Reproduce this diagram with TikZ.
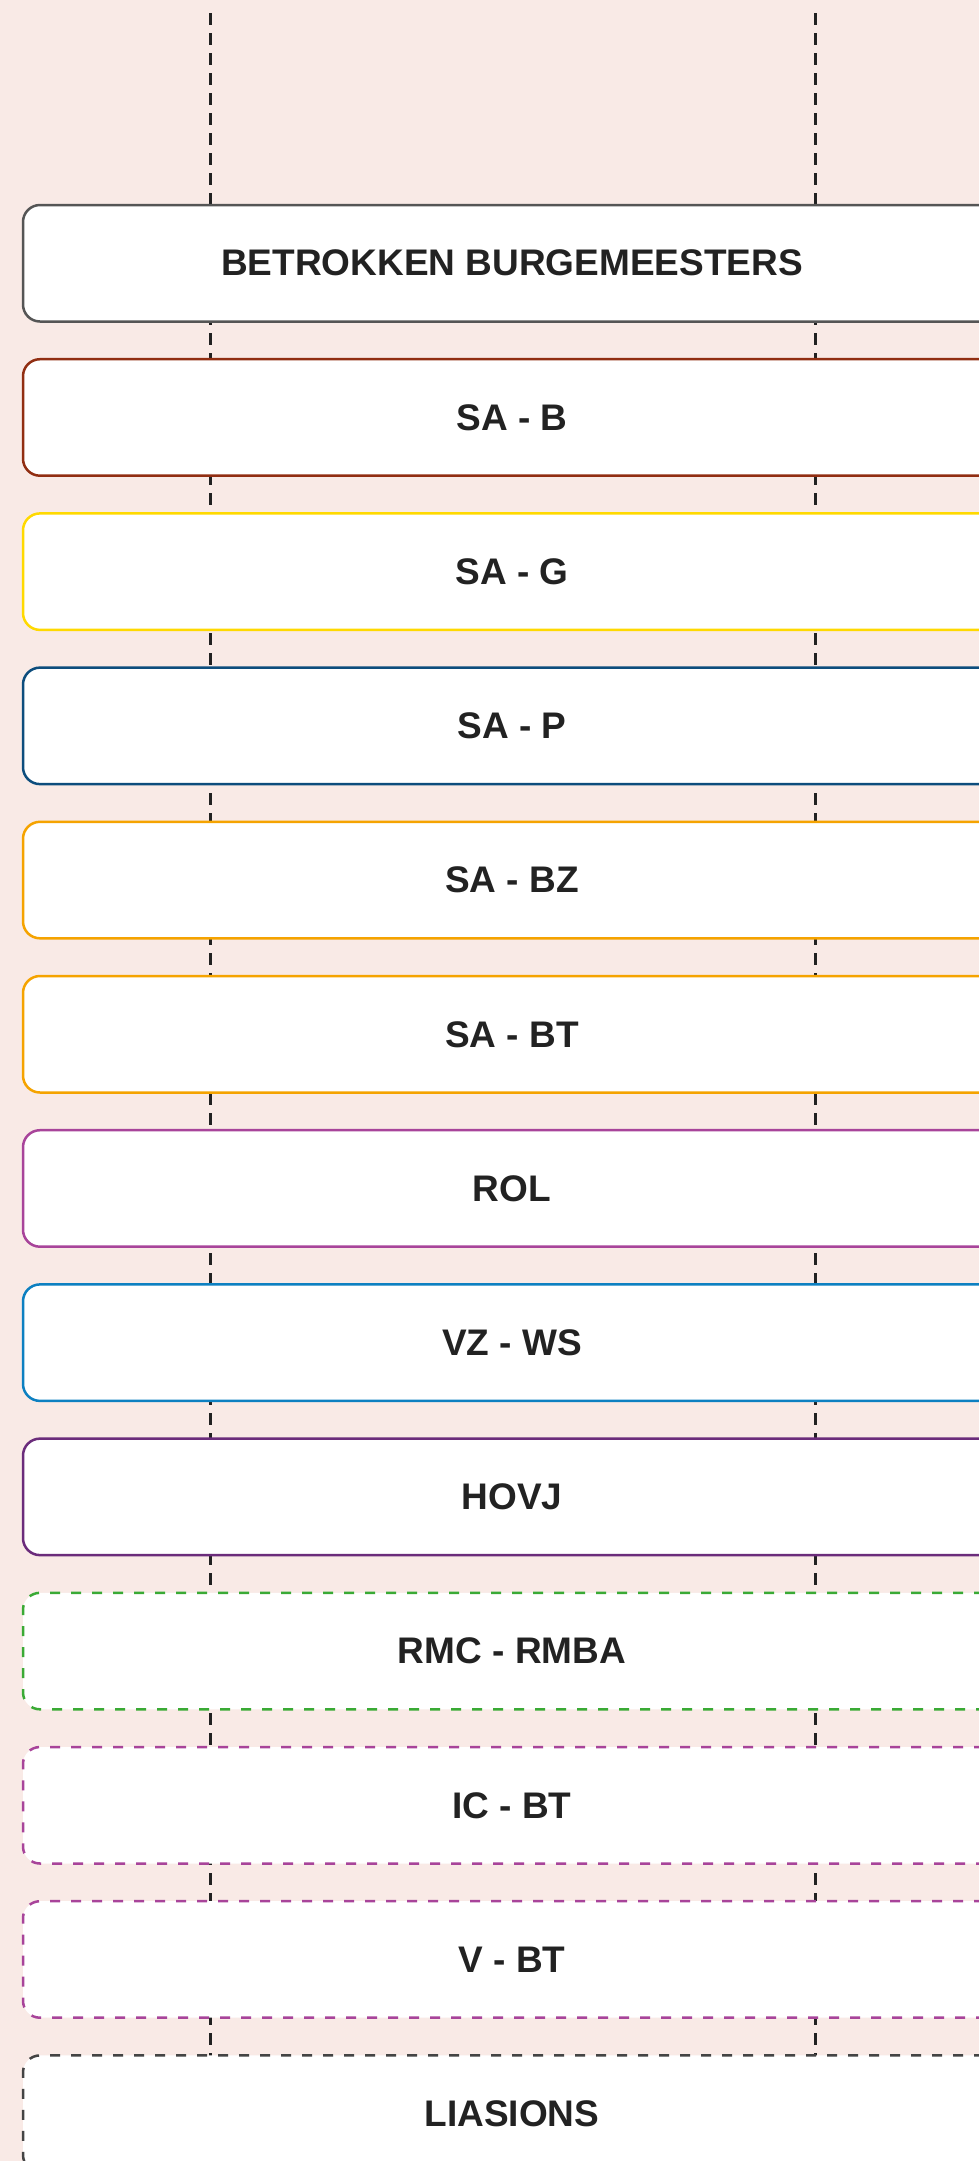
\documentclass[tikz,border=0pt]{standalone}
\usepackage{xcolor}
\usepackage{fontspec}
\setmainfont{Liberation Sans}
\usepackage{tikz}
\usetikzlibrary{positioning}
\definecolor{bgpink}{RGB}{249,234,230}
\definecolor{txtgray}{RGB}{34,34,34}
\definecolor{linegray}{RGB}{34,34,34}
\definecolor{boxgray}{RGB}{85,85,85}
\definecolor{sabred}{RGB}{145,46,18}
\definecolor{sagyellow}{RGB}{255,217,0}
\definecolor{sapblue}{RGB}{13,77,125}
\definecolor{saorange}{RGB}{245,163,0}
\definecolor{rolpink}{RGB}{168,68,154}
\definecolor{vzblue}{RGB}{13,128,193}
\definecolor{hovpurple}{RGB}{107,44,123}
\definecolor{rmcgreen}{RGB}{58,170,53}
\definecolor{liagray}{RGB}{68,68,68}
\tikzset{%
	box/.style={draw, rectangle, minimum width=978pt, minimum height=116.5pt,%
		inner sep=0pt, outer sep=0pt, rounded corners=17pt, fill=white,%
		line width=2.5pt, text=txtgray, font=\bfseries\fontsize{37}{44}\selectfont},
	optbox/.style={box, dash pattern=on 10pt off 11pt},
	lifeline/.style={draw=linegray, line width=3pt, dash pattern=on 12pt off 8pt}
}
\begin{document}
\begin{tikzpicture}[x=1pt, y=-1pt, node distance=37.7pt]
		\fill[bgpink] (0,0) rectangle (979,2161);
		\useasboundingbox (0,0) rectangle (979,2161);
		\coordinate (left-top) at (210.5,13.3);
		\coordinate (left-end) at (210.5,2161);
		\coordinate (right-top) at (815.3,13.3);
		\coordinate (right-end) at (815.3,2161);
		\draw [lifeline] (left-top) -- (left-end);
		\draw [lifeline] (right-top) -- (right-end);
		\node[box, draw=boxgray] (burg) at (512,263.25) {BETROKKEN BURGEMEESTERS};
		\node[box, draw=sabred] (sa-b) [below=of burg] {SA - B};
		\node[box, draw=sagyellow] (sa-g) [below=of sa-b] {SA - G};
		\node[box, draw=sapblue] (sa-p) [below=of sa-g] {SA - P};
		\node[box, draw=saorange] (sa-bz) [below=of sa-p] {SA - BZ};
		\node[box, draw=saorange] (sa-bt) [below=of sa-bz] {SA - BT};
		\node[box, draw=rolpink] (rol) [below=of sa-bt] {ROL};
		\node[box, draw=vzblue] (vz-ws) [below=of rol] {VZ - WS};
		\node[box, draw=hovpurple] (hovj) [below=of vz-ws] {HOVJ};
		\node[optbox, draw=rmcgreen] (rmc) [below=of hovj] {RMC - RMBA};
		\node[optbox, draw=rolpink] (ic-bt) [below=of rmc] {IC - BT};
		\node[optbox, draw=rolpink] (v-bt) [below=of ic-bt] {V - BT};
		\node[optbox, draw=liagray] (lia) [below=of v-bt] {LIASIONS};

	\end{tikzpicture}
\end{document}
